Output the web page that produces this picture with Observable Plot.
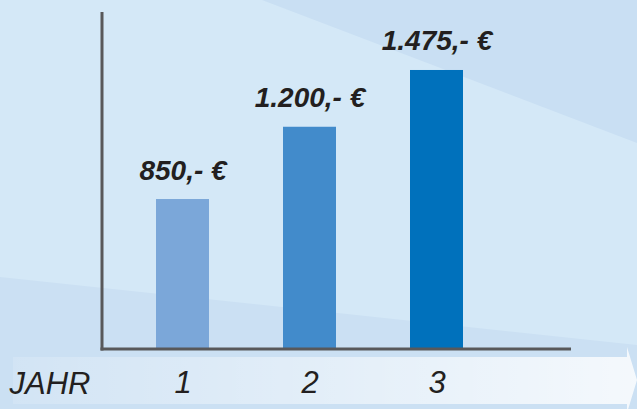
<!DOCTYPE html>
<html>
<head>
<meta charset="utf-8">
<script src="https://cdn.jsdelivr.net/npm/d3@7"></script>
<script src="https://cdn.jsdelivr.net/npm/@observablehq/plot@0.6"></script>
<style>
  html, body { margin: 0; padding: 0; }
  #wrap { position: relative; width: 637px; height: 409px; overflow: hidden; background: #d4e8f7; }
  #shade { position: absolute; left: 0; top: 0; width: 637px; height: 409px; background: #c9dff3;
           clip-path: polygon(262px 0, 637px 0, 637px 143px); }
  #shade2 { position: absolute; left: 0; top: 0; width: 637px; height: 409px; background: #cbe0f3;
           clip-path: polygon(0 277px, 637px 345px, 637px 409px, 0 409px); }
  #band { position: absolute; left: 13px; top: 347px; width: 627px; height: 66px;
          background: linear-gradient(to right, rgba(255,255,255,0.14), rgba(255,255,255,0.8));
          clip-path: polygon(0 10px, 614px 10px, 614px 0, 624px 33px, 614px 66px, 614px 57px, 0 57px); }
  #chart { position: absolute; left: 0; top: 0; }
</style>
</head>
<body>
<div id="wrap">
  <div id="shade"></div>
  <div id="shade2"></div>
  <div id="band"></div>
  <div id="chart"></div>
</div>
<script>
const years = [1, 2, 3];
const values = [850, 1200, 1475];
const valueLabels = ["850,- €", "1.200,- €", "1.475,- €"];
const barColors = ["#7ba7d9", "#428bcb", "#0071bc"];
const axisTitle = "JAHR";

const data = years.map((year, i) => ({year, value: values[i], label: valueLabels[i]}));
const yMin = 126, yMax = 1751;

const chart = Plot.plot({
  width: 637,
  height: 409,
  marginTop: 13,
  marginBottom: 60.5,
  marginLeft: 101.5,
  marginRight: 68,
  style: {background: "transparent", fontFamily: "'Liberation Sans', Arial, sans-serif", color: "#231f20"},
  x: {domain: years, paddingInner: 0.583, paddingOuter: 0.632, align: 0.34, axis: null},
  y: {domain: [yMin, yMax], axis: null},
  color: {domain: years, range: barColors},
  marks: [
    Plot.barY(data, {x: "year", y1: () => yMin, y2: "value", fill: "year"}),
    Plot.text(data, {x: "year", y: "value", text: "label", lineAnchor: "bottom", dy: -20,
                     fontSize: 28, fontWeight: "bold", fontStyle: "italic", fill: "#231f20"}),
    Plot.axisX({tickSize: 0, tickPadding: 22, fontSize: 31, fontStyle: "italic", label: null, fill: "#231f20"}),
    Plot.text([axisTitle], {frameAnchor: "bottom-left", textAnchor: "start", lineAnchor: "bottom",
                            dx: -92.5, dy: 44.5, fontSize: 31, fontStyle: "italic", fill: "#231f20"}),
    Plot.frame({anchor: "left", stroke: "#58585a", strokeWidth: 3, strokeLinecap: "square"}),
    Plot.frame({anchor: "bottom", stroke: "#58585a", strokeWidth: 3, strokeLinecap: "square"})
  ]
});
document.getElementById("chart").appendChild(chart);
</script>
</body>
</html>
